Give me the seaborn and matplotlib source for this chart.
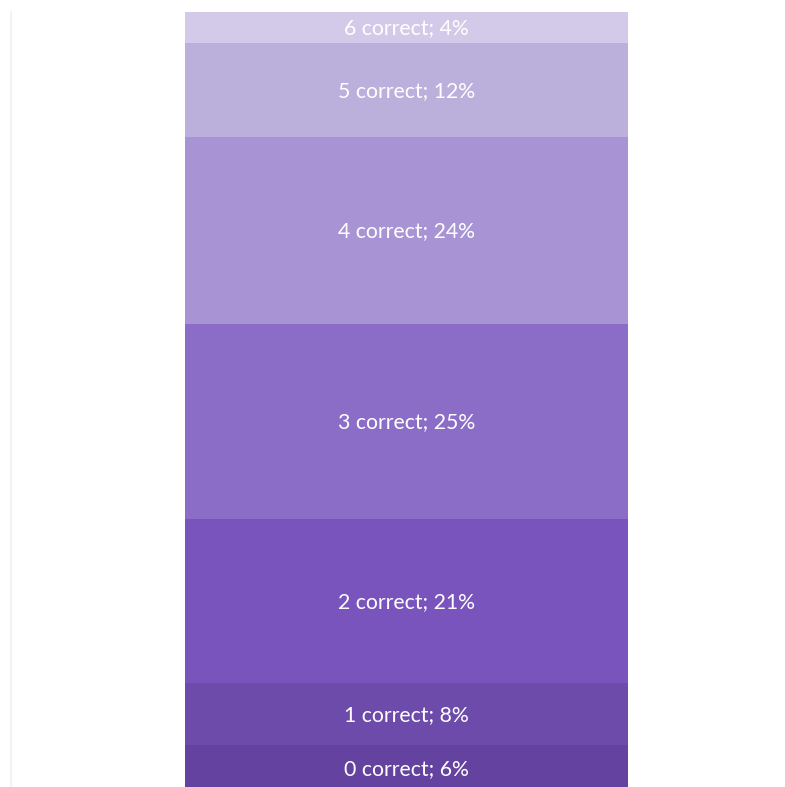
import matplotlib
matplotlib.use("Agg")
import matplotlib.pyplot as plt
import seaborn as sns
import numpy as np
import pandas as pd
from matplotlib.lines import Line2D

categories = ["0 correct", "1 correct", "2 correct", "3 correct", "4 correct", "5 correct", "6 correct"]
percents = [6, 8, 21, 25, 24, 12, 4]
colors = ["#6443A0", "#6C4BAA", "#7854BC", "#8B6DC8", "#A894D4", "#BBB0DC", "#D3C9E8"]

sns.set_theme(style="white")
plt.rcParams['font.family'] = ['Lato', 'DejaVu Sans']

W, H = 785, 787
fig = plt.figure(figsize=(W / 100, H / 100), dpi=100)
fig.patch.set_facecolor("white")

top_px = 12
px_per_pct = 7.8
ax = fig.add_axes([185 / W, 0, 443 / W, (H - top_px) / H])
ymin = 100 - (H - top_px) / px_per_pct

cum = np.cumsum(percents)
bottoms = cum - np.array(percents)
df = pd.DataFrame({"g": ["a"] * len(categories), "cat": categories, "pct": percents, "cum": cum})

# draw stacked segments: largest cumulative first, then overlay smaller ones
for i in range(len(categories) - 1, -1, -1):
    sns.barplot(data=df.iloc[[i]], x="g", y="cum", color=colors[i], width=1.0,
                saturation=1, ax=ax, linewidth=0, edgecolor=colors[i])

for i, cat in enumerate(categories):
    mid = bottoms[i] + percents[i] / 2
    ax.text(0, mid - 0.1, f"{cat}; {percents[i]}%", ha="center", va="center",
            color="white", fontsize=15.3)

ax.set_xlim(-0.5, 0.5)
ax.set_ylim(ymin, 100)
ax.axis("off")

fig.add_artist(Line2D([10.5 / W, 10.5 / W], [0, (H - top_px) / H], color="#F2F2F2",
                      linewidth=1.5, transform=fig.transFigure))

fig.savefig("out.png", dpi=100, facecolor="white")
